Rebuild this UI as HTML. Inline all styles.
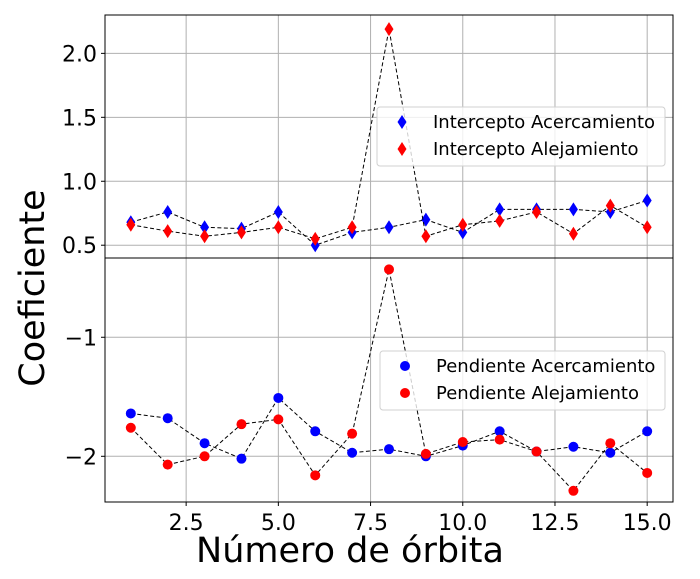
<!DOCTYPE html>
<html><head><meta charset="utf-8"><style>
body{margin:0;background:#fff;}
svg text{font-family:"DejaVu Sans","Liberation Sans",sans-serif;fill:#000;}
</style></head><body>
<svg id="chart" width="700" height="574" viewBox="0 0 700 574" xmlns="http://www.w3.org/2000/svg"></svg>
<script>
const orbits = [1,2,3,4,5,6,7,8,9,10,11,12,13,14,15];
const interceptAcerc = [0.68,0.76,0.64,0.63,0.76,0.50,0.60,0.64,0.70,0.60,0.78,0.78,0.78,0.76,0.85];
const interceptAlej = [0.66,0.61,0.57,0.60,0.64,0.55,0.64,2.19,0.57,0.66,0.69,0.76,0.59,0.81,0.64];
const pendienteAcerc = [-1.64,-1.68,-1.89,-2.02,-1.51,-1.79,-1.97,-1.94,-2.00,-1.91,-1.79,-1.96,-1.92,-1.97,-1.79];
const pendienteAlej = [-1.76,-2.07,-2.00,-1.73,-1.69,-2.16,-1.81,-0.43,-1.98,-1.88,-1.86,-1.96,-2.29,-1.89,-2.14];
const xTicks = [2.5,5.0,7.5,10.0,12.5,15.0];
const xTickLabels = ["2.5","5.0","7.5","10.0","12.5","15.0"];
const topYTicks = [0.5,1.0,1.5,2.0];
const topYTickLabels = ["0.5","1.0","1.5","2.0"];
const botYTicks = [-2,-1];
const botYTickLabels = ["\u22122","\u22121"];

const svg = document.getElementById('chart');
const NS = 'http://www.w3.org/2000/svg';
function mk(tag, attrs, parent){const e=document.createElementNS(NS,tag);for(const k in attrs)e.setAttribute(k,attrs[k]);(parent||svg).appendChild(e);return e;}
const L=105,R=673;
const xMin=0.3,xMax=15.7;
const xs=v=>L+(v-xMin)/(xMax-xMin)*(R-L);
const topT=15,topB=258, topMin=0.40, topMax=2.30;
const ysTop=v=>topB-(v-topMin)/(topMax-topMin)*(topB-topT);
const botT=258,botB=502, botMin=-2.384, botMax=-0.334;
const ysBot=v=>botB-(v-botMin)/(botMax-botMin)*(botB-botT);

function panel(T,B,ys,yt,ytl,name){
  const g=mk('g',{});
  
  
  xTicks.forEach(t=>{const l=mk('line',{x1:xs(t),x2:xs(t),y1:T,y2:B,stroke:'#b0b0b0','stroke-width':1},g);
    
    });
  yt.forEach((t,i)=>{const l=mk('line',{x1:L,x2:R,y1:ys(t),y2:ys(t),stroke:'#b0b0b0','stroke-width':1},g);
    
    
    mk('line',{x1:L-4,x2:L,y1:ys(t),y2:ys(t),stroke:'#000'},g);
    const tx=mk('text',{x:L-8,y:ys(t)+8,'text-anchor':'end','font-size':22},g);tx.textContent=ytl[i];
    
    });
  return g;
}
const gTop=panel(topT,topB,ysTop,topYTicks,topYTickLabels,'top-panel');
const gBot=panel(botT,botB,ysBot,botYTicks,botYTickLabels,'bottom-panel');
xTicks.forEach((t,i)=>{mk('line',{x1:xs(t),x2:xs(t),y1:botB,y2:botB+4,stroke:'#000'});
  const tx=mk('text',{x:xs(t),y:botB+28,'text-anchor':'middle','font-size':22});tx.textContent=xTickLabels[i];
  
  });

function series(g,vals,ys,color,shape,name){
  const pts=orbits.map((o,i)=>xs(o)+','+ys(vals[i])).join(' ');
  const pl=mk('polyline',{points:pts,fill:'none',stroke:'#000','stroke-width':1,'stroke-dasharray':'4,2.5'},g);
  
  
  orbits.forEach((o,i)=>{const x=xs(o),y=ys(vals[i]);let m;
    if(shape==='d'){m=mk('polygon',{points:`${x},${y-7} ${x+4.5},${y} ${x},${y+7} ${x-4.5},${y}`,fill:color},g);}
    else{m=mk('circle',{cx:x,cy:y,r:5,fill:color},g);}
    
    });
}
series(gTop,interceptAcerc,ysTop,'#0000ff','d','intercepto-acercamiento');
series(gTop,interceptAlej,ysTop,'#ff0000','d','intercepto-alejamiento');
series(gBot,pendienteAcerc,ysBot,'#0000ff','c','pendiente-acercamiento');
series(gBot,pendienteAlej,ysBot,'#ff0000','c','pendiente-alejamiento');

mk('rect',{x:L,y:topT,width:R-L,height:topB-topT,fill:'none',stroke:'#000','stroke-width':1});
mk('rect',{x:L,y:botT,width:R-L,height:botB-botT,fill:'none',stroke:'#000','stroke-width':1});

function legend(x,y,w,h,labels,colors,shape,name){
  const g=mk('g',{});
  
  
  mk('rect',{x:x,y:y,width:w,height:h,rx:3,fill:'rgba(255,255,255,0.8)',stroke:'#d0d0d0'},g);
  labels.forEach((lab,i)=>{const cy=y+15+i*27,cx=x+25;
    if(shape==='d')mk('polygon',{points:`${cx},${cy-7} ${cx+4.5},${cy} ${cx},${cy+7} ${cx-4.5},${cy}`,fill:colors[i]},g);
    else mk('circle',{cx:cx,cy:cy,r:5,fill:colors[i]},g);
    const t=mk('text',{x:x+56,y:cy+6,'font-size':18},g);t.textContent=lab;
    
    });
}
legend(377,107,288,59,['Intercepto Acercamiento','Intercepto Alejamiento'],['#0000ff','#ff0000'],'d','top-legend');
legend(380,351,285,59,['Pendiente Acercamiento','Pendiente Alejamiento'],['#0000ff','#ff0000'],'c','bottom-legend');

const xl=mk('text',{x:350,y:562,'text-anchor':'middle','font-size':35});xl.textContent='Número de órbita';


const yl=mk('text',{x:0,y:0,'text-anchor':'middle','font-size':35,transform:'translate(44,288) rotate(-90)'});yl.textContent='Coeficiente';


</script>
</body></html>
